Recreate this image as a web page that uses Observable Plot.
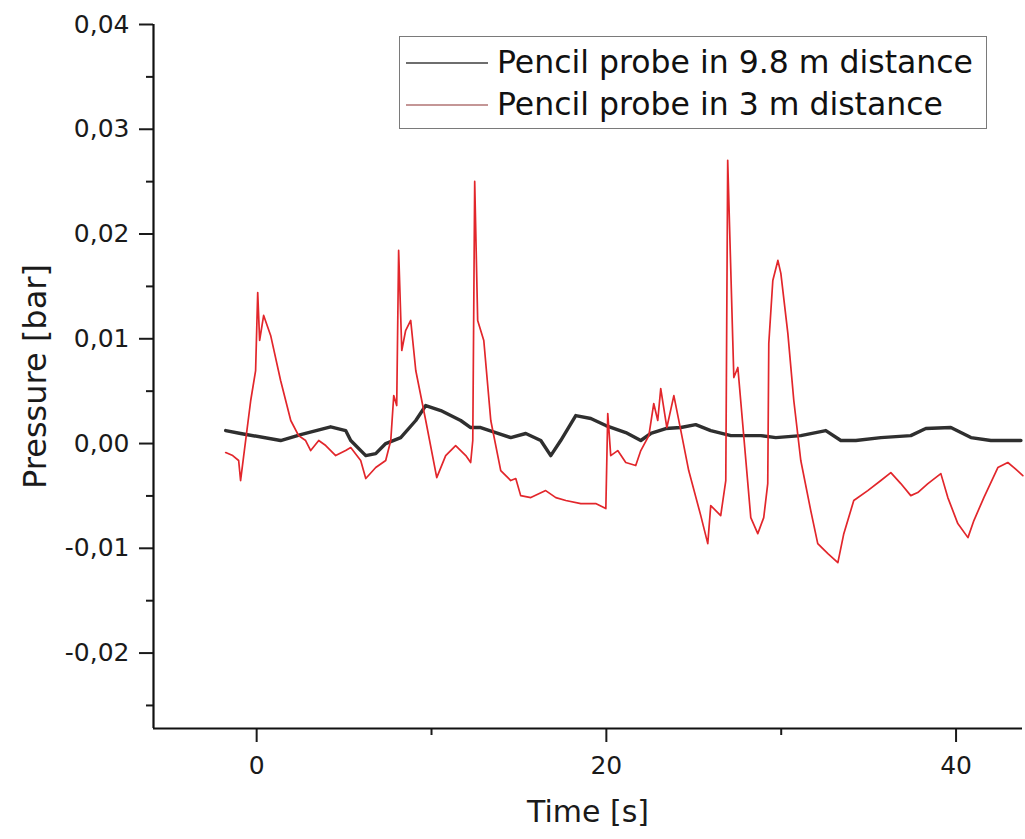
<!DOCTYPE html>
<html>
<head>
<meta charset="utf-8">
<script src="https://cdn.jsdelivr.net/npm/d3@7"></script>
<script src="https://cdn.jsdelivr.net/npm/@observablehq/plot@0.6"></script>
<style>
  body { margin: 0; background: #fff; }
  #wrap { position: relative; width: 1025px; height: 839px; font-family: 'DejaVu Sans', sans-serif; }
  #legend { position: absolute; left: 399px; top: 36px; width: 588px; height: 93px; box-sizing: border-box; border: 1.5px solid #7a7a7a; background: #fff; }
  .lg-line { position: absolute; left: 6px; width: 82px; height: 2px; }
  .lg-text { position: absolute; left: 97px; font-size: 31.5px; line-height: 40px; color: #111; white-space: nowrap; }
</style>
</head>
<body>
<div id="wrap"></div>
<script>
// ---- data ----
const seriesNames = ["Pencil probe in 9.8 m distance", "Pencil probe in 3 m distance"];
const seriesColors = ["#2f2f2f", "#e2262b"];
const legendSwatch = ["#6e6e6e", "#c49696"];

// probe at 9.8 m (black)
const farTime = [-1.77,-0.92,1.37,2.52,4.23,5.09,5.38,6.24,6.81,7.38,8.24,9.10,9.67,10.53,11.67,12.24,12.81,13.67,14.53,15.39,16.25,16.82,17.39,18.25,19.11,19.97,21.11,21.97,22.54,23.40,24.26,25.11,25.97,27.12,28.83,29.69,31.12,32.55,33.41,34.27,35.70,37.41,38.27,39.70,40.85,41.99,43.71];
const farPressure = [0.00124,0.00096,0.00029,0.00086,0.00160,0.00124,0.00029,-0.00115,-0.00096,0.0,0.00057,0.00220,0.00363,0.00315,0.00220,0.00153,0.00153,0.00105,0.00057,0.00096,0.00029,-0.00115,0.00029,0.00267,0.00239,0.00172,0.00105,0.00029,0.00096,0.00143,0.00153,0.00181,0.00124,0.00076,0.00076,0.00057,0.00076,0.00124,0.00029,0.00029,0.00057,0.00076,0.00143,0.00153,0.00057,0.00029,0.00029];

// probe at 3 m (red)
const nearTime = [-1.77,-1.37,-1.03,-0.92,-0.74,-0.34,-0.06,0.06,0.17,0.40,0.80,1.37,1.95,2.40,2.80,3.09,3.55,3.95,4.52,5.09,5.38,5.95,6.24,6.81,7.38,7.67,7.84,8.01,8.12,8.30,8.52,8.81,9.10,9.67,10.30,10.81,11.38,11.96,12.24,12.36,12.47,12.64,12.99,13.39,13.96,14.53,14.82,15.10,15.68,16.53,17.11,17.68,18.54,19.39,19.97,20.08,20.25,20.65,21.11,21.68,21.97,22.43,22.71,22.94,23.11,23.46,23.86,24.26,24.71,25.40,25.80,25.97,26.54,26.83,26.94,27.23,27.29,27.52,28.26,28.66,29.00,29.23,29.29,29.52,29.81,29.98,30.38,30.72,31.12,31.69,32.09,32.67,33.24,33.58,34.15,34.95,35.70,36.27,36.84,37.41,37.81,38.39,39.13,39.53,40.10,40.68,41.02,41.59,42.39,42.96,43.31,43.82];
const nearPressure = [-0.00086,-0.00115,-0.00162,-0.00353,-0.00115,0.00411,0.00697,0.01442,0.00984,0.01223,0.01032,0.00602,0.00220,0.00076,0.00029,-0.00067,0.00029,-0.00019,-0.00115,-0.00067,-0.00038,-0.00162,-0.00334,-0.00229,-0.00162,0.00029,0.00458,0.00363,0.01843,0.00888,0.01079,0.01175,0.00697,0.00220,-0.00325,-0.00115,-0.00019,-0.00115,-0.00181,0.00029,0.02502,0.01175,0.00984,0.00220,-0.00258,-0.00353,-0.00334,-0.00497,-0.00516,-0.00449,-0.00516,-0.00544,-0.00573,-0.00573,-0.00621,0.00287,-0.00115,-0.00067,-0.00181,-0.00210,-0.00067,0.00076,0.00382,0.00220,0.00525,0.00153,0.00458,0.00124,-0.00258,-0.00688,-0.00955,-0.00592,-0.00688,-0.00353,0.02703,0.00984,0.00630,0.00726,-0.00707,-0.00860,-0.00707,-0.00382,0.00955,0.01557,0.01748,0.01624,0.01051,0.00411,-0.00162,-0.00640,-0.00955,-0.01051,-0.01137,-0.00860,-0.00544,-0.00449,-0.00353,-0.00277,-0.00382,-0.00497,-0.00468,-0.00382,-0.00287,-0.00516,-0.00764,-0.00898,-0.00735,-0.00516,-0.00229,-0.00181,-0.00229,-0.00306];

// ticks and axis ranges
const xMajorTicks = [0, 20, 40];
const xMinorTicks = [10, 30];
const yMajorTicks = [-0.02, -0.01, 0, 0.01, 0.02, 0.03, 0.04];
const yMinorTicks = [-0.025, -0.015, -0.005, 0.005, 0.015, 0.025, 0.035];
const xDomain = [-5.9, 43.8];
const yDomain = [-0.0272, 0.04];
const xTitle = "Time [s]";
const yTitle = "Pressure [bar]";

// ---- build tables ----
const far = farTime.map((t, i) => ({t, p: farPressure[i]}));
const near = nearTime.map((t, i) => ({t, p: nearPressure[i]}));
const fmtY = d => d3.format(".2f")(d).replace(".", ",").replace("\u2212", "-");

const chart = Plot.plot({
  width: 1025,
  height: 839,
  marginLeft: 153,
  marginRight: 3,
  marginTop: 24,
  marginBottom: 111,
  x: {domain: xDomain},
  y: {domain: yDomain},
  style: {fontFamily: "'DejaVu Sans', sans-serif", fontSize: "25px", color: "#1a1a1a", background: "#fff"},
  marks: [
    Plot.axisY(yMajorTicks, {tickSize: 14, tickPadding: 10, tickFormat: fmtY, fontSize: 25, strokeWidth: 2, label: null}),
    Plot.axisY(yMinorTicks, {tickSize: 7, tickFormat: () => "", strokeWidth: 2, label: null}),
    Plot.axisX(xMajorTicks, {tickSize: 14, tickPadding: 14, fontSize: 25, strokeWidth: 2, label: null}),
    Plot.axisX(xMinorTicks, {tickSize: 7, tickFormat: () => "", strokeWidth: 2, label: null}),
    Plot.ruleX([xDomain[0]], {stroke: "#111", strokeWidth: 2.2}),
    Plot.ruleY([yDomain[0]], {stroke: "#111", strokeWidth: 2.2}),
    Plot.line(far, {x: "t", y: "p", stroke: seriesColors[0], strokeWidth: 3.4}),
    Plot.line(near, {x: "t", y: "p", stroke: seriesColors[1], strokeWidth: 1.7}),
    Plot.text([yTitle], {frameAnchor: "left", textAnchor: "middle", rotate: -90, dx: -118, fontSize: 32, fill: "#1a1a1a"}),
    Plot.text([xTitle], {frameAnchor: "bottom", textAnchor: "middle", dy: 93, fontSize: 30, fill: "#1a1a1a"})
  ]
});

const wrap = document.getElementById("wrap");
wrap.appendChild(chart);

// legend (HTML, over the plot)
const legend = document.createElement("div");
legend.id = "legend";
const rowCenters = [26, 68];
seriesNames.forEach((name, i) => {
  const ln = document.createElement("div");
  ln.className = "lg-line";
  ln.style.top = (rowCenters[i] - 1) + "px";
  ln.style.background = legendSwatch[i];
  const tx = document.createElement("div");
  tx.className = "lg-text";
  tx.style.top = (rowCenters[i] - 21) + "px";
  tx.textContent = name;
  legend.appendChild(ln);
  legend.appendChild(tx);
});
wrap.appendChild(legend);
</script>
</body>
</html>
